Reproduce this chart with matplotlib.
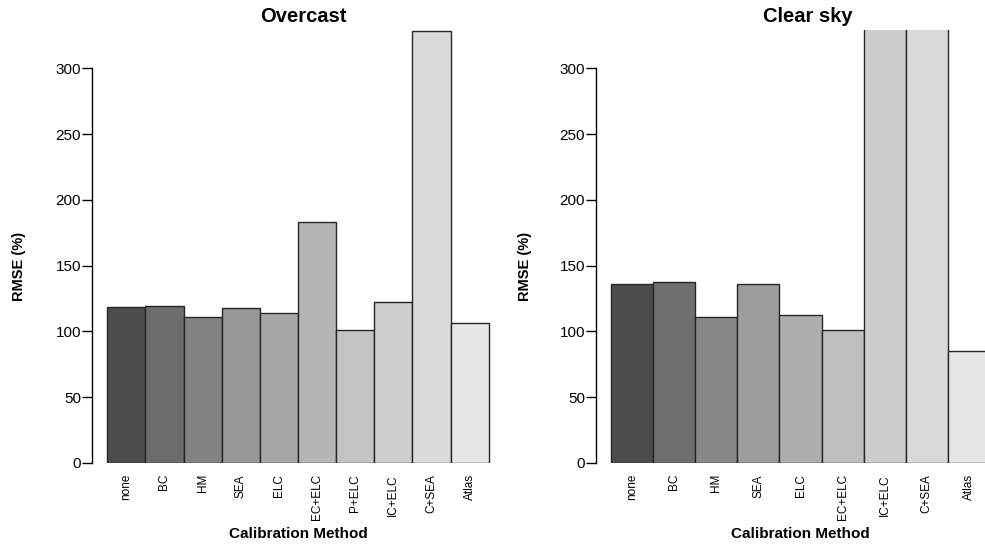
import matplotlib
matplotlib.use("Agg")
import matplotlib.pyplot as plt

plt.rcParams['font.family'] = ['Liberation Sans', 'DejaVu Sans']

overcast_methods = ["none", "BC", "HM", "SEA", "ELC", "EC+ELC", "P+ELC", "IC+ELC", "C+SEA", "Atlas"]
overcast_rmse = [118.3, 119.0, 111.1, 118.0, 114.2, 183.3, 101.3, 122.0, 328.0, 106.3]

clear_methods = ["none", "BC", "HM", "SEA", "ELC", "EC+ELC", "IC+ELC", "C+SEA", "Atlas"]
clear_rmse = [135.7, 137.2, 110.6, 136.0, 112.2, 100.8, 345.0, 345.0, 85.1]

yticks = [0, 50, 100, 150, 200, 250, 300]

# grey ramps like R's gray.colors(n)
overcast_cols = ["#4d4d4d", "#6c6c6c", "#838383", "#969696", "#a6a6a6",
                 "#b5b5b5", "#c3c3c3", "#cfcfcf", "#dbdbdb", "#e6e6e6"]
clear_cols = ["#4d4d4d", "#6f6f6f", "#888888", "#9d9d9d", "#aeaeae",
              "#bebebe", "#cccccc", "#d9d9d9", "#e6e6e6"]

W, H = 985, 544
fig = plt.figure(figsize=(W / 100, H / 100), dpi=100)

def panel(left_px, right_px, title, methods, values, cols, ylab_dx, title_dx):
    bottom_px, top_px = 463, 29.5
    ax = fig.add_axes([left_px / W, (H - bottom_px) / H,
                       (right_px - left_px) / W, (bottom_px - top_px) / H])
    n = len(methods)
    x = list(range(n))
    ax.bar(x, values, width=1.0, align="edge", color=cols,
           edgecolor="#262626", linewidth=1.0)
    ax.set_xlim(-0.04 * n, n * 1.04)
    ax.set_ylim(0, 329.5)
    for s in ["top", "right", "bottom"]:
        ax.spines[s].set_visible(False)
    ax.spines["left"].set_bounds(0, 300)
    ax.spines["left"].set_linewidth(1.0)
    ax.set_yticks(yticks)
    ax.tick_params(axis="y", length=7, width=1.0, pad=1, labelsize=11)
    ax.set_xticks([i + 0.5 for i in x])
    ax.set_xticklabels(methods, rotation=90, fontsize=8.5, va="top")
    ax.tick_params(axis="x", length=0, pad=8)
    w_px = right_px - left_px
    h_px = bottom_px - top_px
    ax.set_ylabel("RMSE (%)", fontsize=10.5, fontweight="bold", va="center")
    ax.yaxis.set_label_coords(ylab_dx / w_px, (bottom_px - 266) / h_px)
    ax.set_xlabel("Calibration Method", fontsize=11, fontweight="bold")
    ax.xaxis.set_label_coords(0.5, -71 / h_px)
    ax.xaxis.label.set_va("center")
    ax.text(0.5 + title_dx / w_px, 1 + 12.5 / h_px, title, transform=ax.transAxes,
            ha="center", va="center", fontsize=14.5, fontweight="bold")
    return ax

panel(92, 504, "Overcast", overcast_methods, overcast_rmse, overcast_cols, -72.5, 5)
panel(596, 1005, "Clear sky", clear_methods, clear_rmse, clear_cols, -71, 7)

fig.savefig("out.png", dpi=100)
